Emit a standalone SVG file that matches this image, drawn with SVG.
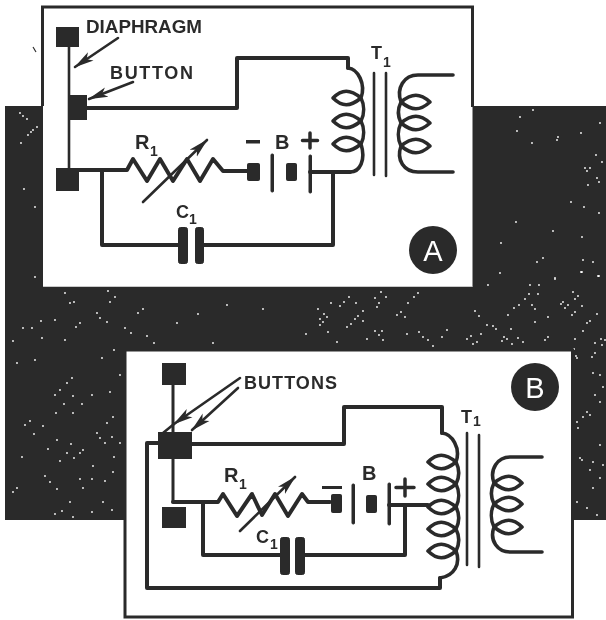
<svg xmlns="http://www.w3.org/2000/svg" width="606" height="620" viewBox="0 0 606 620">
<defs>
<style>
text{font-family:"Liberation Sans",Arial,sans-serif;font-weight:700;fill:#2b2b2b}
.w{fill:none;stroke:#2b2b2b;stroke-width:4;stroke-linejoin:round;stroke-linecap:round}
.c{fill:none;stroke:#2b2b2b;stroke-width:3.6;stroke-linejoin:round;stroke-linecap:round}
.t{fill:none;stroke:#2b2b2b;stroke-width:2.6;stroke-linecap:round}
.k{fill:#2b2b2b}
.pl{fill:#2b2b2b;stroke:#2b2b2b;stroke-width:1;stroke-linejoin:round}
.lbl{font-size:18px}
.big{font-size:20px}
.sub{font-size:14px}
.cap{fill:#fff;font-size:29px;font-weight:400}
</style>
<filter id="scan" x="0" y="0" width="606" height="620" filterUnits="userSpaceOnUse"><feGaussianBlur stdDeviation="0.45"/></filter>
<marker id="ah" viewBox="0 0 20 12" refX="19" refY="6" markerWidth="20" markerHeight="12" markerUnits="userSpaceOnUse" orient="auto"><path d="M0 1L20 6L0 11L5 6Z" fill="#2b2b2b"/></marker>
</defs>
<rect width="606" height="620" fill="#fff"/>
<g filter="url(#scan)">
<g id="background">
<rect x="5" y="106" width="601" height="414" fill="#2b2b2b"/>
<path d="M20 113h0M23 116h0M27 119h0M37 127h0M33 130h0M31 132h0M28 135h0M21 143h0M24 189h0M35 207h0M35 277h0M65 293h0M74 302h0M70 303h0M110 302h0M115 297h0M108 291h0M143 309h0M138 313h0M97 313h0M100 318h0M107 322h0M41 321h0M23 328h0M32 328h0M55 320h0M80 323h0M76 327h0M131 333h0M147 336h0M125 328h0M154 343h0M213 343h0M227 305h0M263 309h0M198 314h0M177 323h0M42 338h0M13 341h0M65 340h0M114 350h0M102 358h0M35 360h0M17 363h0M72 378h0M67 383h0M60 390h0M55 395h0M64 404h0M73 396h0M120 375h0M110 392h0M92 395h0M82 404h0M56 413h0M73 413h0M113 417h0M107 423h0M34 434h0M43 426h0M30 421h0M25 425h0M97 433h0M100 438h0M105 443h0M112 437h0M120 443h0M48 449h0M57 440h0M71 444h0M80 453h0M83 450h0M74 458h0M67 453h0M114 457h0M60 461h0M22 457h0M93 466h0M113 472h0M45 476h0M50 482h0M80 479h0M92 479h0M105 481h0M57 489h0M83 488h0M17 488h0M13 492h0M70 502h0M103 502h0M112 510h0M62 511h0M73 517h0M92 512h0M55 514h0M381 292h0M386 297h0M375 298h0M379 303h0M377 307h0M418 293h0M414 297h0M408 303h0M401 312h0M405 317h0M397 315h0M356 303h0M344 302h0M349 297h0M331 303h0M340 306h0M318 309h0M324 314h0M327 317h0M320 319h0M323 322h0M320 325h0M358 316h0M355 319h0M351 324h0M347 327h0M363 311h0M363 321h0M306 334h0M328 332h0M337 342h0M367 339h0M375 331h0M379 335h0M382 331h0M383 340h0M407 334h0M423 337h0M428 340h0M433 346h0M419 332h0M442 337h0M447 330h0M467 339h0M471 336h0M477 342h0M473 344h0M481 334h0M475 311h0M479 316h0M487 325h0M493 326h0M496 329h0M511 329h0M504 337h0M507 339h0M502 341h0M512 344h0M518 338h0M523 342h0M545 340h0M548 337h0M535 322h0M548 317h0M508 315h0M514 308h0M519 305h0M525 299h0M529 294h0M530 285h0M539 285h0M538 294h0M532 305h0M535 309h0M488 285h0M555 279h0M582 272h0M599 276h0M573 292h0M578 296h0M575 299h0M563 302h0M561 304h0M568 305h0M565 308h0M582 306h0M575 312h0M572 315h0M597 314h0M587 323h0M590 321h0M583 331h0M575 339h0M601 339h0M605 340h0M595 343h0M602 345h0M574 349h0M576 356h0M595 353h0M592 357h0M593 373h0M600 375h0M603 387h0M595 395h0M600 402h0M587 412h0M590 415h0M583 417h0M582 460h0M590 470h0M600 478h0M593 488h0M577 502h0M587 508h0M597 515h0M580 458h0M593 462h0M603 465h0M577 422h0M578 428h0M600 445h0M577 358h0M520 117h0M533 110h0M517 131h0M558 137h0M557 140h0M532 143h0M581 133h0M600 123h0M596 155h0M602 162h0M585 168h0M590 168h0M587 171h0M597 178h0M599 182h0M588 185h0M571 202h0M584 207h0M599 213h0M516 222h0M553 231h0M582 237h0M501 243h0M543 258h0M537 262h0M583 260h0M593 262h0M581 272h0M598 276h0M555 278h0M500 273h0" fill="none" stroke="#fff" stroke-width="1.8" stroke-linecap="round"/>
<path d="M33 47L36 52" fill="none" stroke="#2b2b2b" stroke-width="1.2"/>
</g>
<g id="panel-a">
<rect x="43" y="7" width="429.500" height="280" fill="#fff"/>
<path d="M42.500 106V7H472.500V107" fill="none" stroke="#2b2b2b" stroke-width="3"/>
<path d="M43 287.500H472" fill="none" stroke="#2b2b2b" stroke-width="1.500"/>
</g>
<g id="panel-b">
<rect x="125" y="350" width="447.500" height="267" fill="#fff" stroke="#2b2b2b" stroke-width="3"/>
</g>
<g id="connectors">
<path class="t" d="M69 47V168"/>
<path class="w" d="M87 108H237V58H348V68"/>
<path class="c" d="M348 68C358 69 366 84 361 98C350 89 342 89 333 98C342 107 350 107 361 98C364.500 105 364.500 114 361 121C350 112 342 112 333 121C342 130 350 130 361 121C364.500 128 364.500 137 361 144C350 135 342 135 333 144C342 153 350 153 361 144C366 160 360 172 350 172"/>
<path class="w" d="M350 172H310"/>
<path class="w" d="M79 170H127L133 159L147 181L160 159L173 181L187 159L200 181L213 159L223 171H247"/>
<path class="w" d="M102 170V245H178M204 245H333V172"/>
<path class="t" d="M143 202L207 140" marker-end="url(#ah)"/>
<path class="t" d="M118 38L75 67" marker-end="url(#ah)"/>
<path class="t" d="M133 82L89 99" marker-end="url(#ah)"/>
<path class="c" d="M453 75H418C404 75 396 88 401 102C412 93 420 93 430 102C420 111 412 111 401 102C397.500 109 397.500 116 401 123C412 114 420 114 430 123C420 132 412 132 401 123C397.500 130 397.500 139 401 146C412 137 420 137 430 146C420 155 412 155 401 146C396 160 404 172 418 172H453"/>
<path class="t" d="M374 73V175M386 73V176"/>
<path class="w" d="M173 385V432M173 459V502" style="stroke-width:3"/>
<path class="w" d="M192 444H344V407H442V433"/>
<path class="c" d="M442 433C452 434 461 448 456 462C445 453 437 453 428 462C437 471 445 471 456 462C459.500 469 459.500 477 456 484C445 475 437 475 428 484C437 493 445 493 456 484C459.500 491 459.500 500 456 507C445 498 437 498 428 507C437 516 445 516 456 507C459.500 514 459.500 522 456 529C445 520 437 520 428 529C437 538 445 538 456 529C459.500 536 459.500 544 456 551C445 542 437 542 428 551C437 560 445 560 456 551C461 564 454 576 440 578"/>
<path class="w" d="M440 578V588H147V443H158"/>
<path class="w" d="M173 502H218L223 494L237 516L252 494L262 515L275 494L288 516L302 494L308 502H330"/>
<path class="w" d="M203 502V555H280M305 555H405V505M389 505H428"/>
<path class="t" d="M240 531L295 477" marker-end="url(#ah)"/>
<path class="t" d="M240 378L174 424" marker-end="url(#ah)"/>
<path class="t" d="M174 424L163 433"/>
<path class="t" d="M238 388L192 430" marker-end="url(#ah)"/>
<path class="c" d="M542 457H510C498 457 489 469 494 483C505 474 513 474 522 483C513 492 505 492 494 483C490.500 490 490.500 497 494 504C505 495 513 495 522 504C513 513 505 513 494 504C490.500 511 490.500 520 494 527C505 518 513 518 522 527C513 536 505 536 494 527C489 541 498 552 510 552H542"/>
<path class="t" d="M467 433V565M479 435V567"/>
</g>
<g id="a-diaphragm"><rect class="k" x="56" y="27" width="23" height="20"/><text class="lbl" x="86" y="33" textLength="116" lengthAdjust="spacingAndGlyphs">DIAPHRAGM</text></g>
<g id="a-button"><rect class="k" x="70" y="95" width="17" height="25"/><text class="lbl" x="110" y="79" textLength="83" lengthAdjust="spacing">BUTTON</text></g>
<g id="a-contact"><rect class="k" x="56" y="168" width="23" height="23"/></g>
<g id="a-r1"><text class="big" x="135" y="149">R</text><text class="sub" x="150" y="156">1</text></g>
<g id="a-battery">
<rect class="pl" x="247.500" y="163.500" width="12" height="17" rx="1"/>
<rect class="pl" x="271" y="154" width="2.500" height="38" rx="1"/>
<rect class="pl" x="286.500" y="163.500" width="10" height="17" rx="1"/>
<rect class="pl" x="309" y="155" width="2.500" height="38" rx="1"/>
<rect class="k" x="246" y="140" width="14" height="3.500"/>
<text class="big" x="275" y="149">B</text>
<path class="w" d="M302.500 140.500H317.500M310 133V148" style="stroke-width:3.500"/>
</g>
<g id="a-c1">
<rect class="pl" x="178.500" y="227.500" width="9" height="36" rx="2"/>
<rect class="pl" x="195.500" y="227.500" width="8" height="36" rx="2"/>
<text class="lbl" x="176" y="218">C</text><text class="sub" x="189" y="224">1</text>
</g>
<g id="a-t1"><text class="lbl" x="371" y="59">T</text><text class="sub" x="383" y="67">1</text></g>
<g id="a-badge"><circle class="k" cx="433" cy="250" r="24"/><text class="cap" x="433" y="261" text-anchor="middle">A</text></g>
<g id="b-top"><rect class="k" x="162" y="363" width="24" height="22"/></g>
<g id="b-buttons"><rect class="k" x="158" y="432" width="34" height="27"/><text class="lbl" x="244" y="389" textLength="93" lengthAdjust="spacing">BUTTONS</text></g>
<g id="b-contact"><rect class="k" x="162" y="507" width="24" height="21"/></g>
<g id="b-r1"><text class="big" x="224" y="482">R</text><text class="sub" x="239" y="489">1</text></g>
<g id="b-battery">
<rect class="pl" x="331.500" y="494.500" width="10" height="18" rx="1"/>
<rect class="pl" x="352" y="484" width="2.500" height="40" rx="1"/>
<rect class="pl" x="366.500" y="495.500" width="10" height="17" rx="1"/>
<rect class="pl" x="388" y="483" width="2.500" height="42" rx="1"/>
<rect class="k" x="322" y="486" width="20" height="3"/>
<text class="big" x="362" y="480">B</text>
<path class="w" d="M396 487.500H414M405 479V496" style="stroke-width:3.500"/>
</g>
<g id="b-c1">
<rect class="pl" x="280.500" y="537.500" width="9" height="37" rx="2"/>
<rect class="pl" x="295.500" y="537.500" width="9" height="37" rx="2"/>
<text class="lbl" x="256" y="543">C</text><text class="sub" x="270" y="549">1</text>
</g>
<g id="b-t1"><text class="lbl" x="461" y="423">T</text><text class="sub" x="473" y="426">1</text></g>
<g id="b-badge"><circle class="k" cx="535" cy="387" r="24"/><text class="cap" x="535" y="398" text-anchor="middle">B</text></g>
</g>
</svg>
